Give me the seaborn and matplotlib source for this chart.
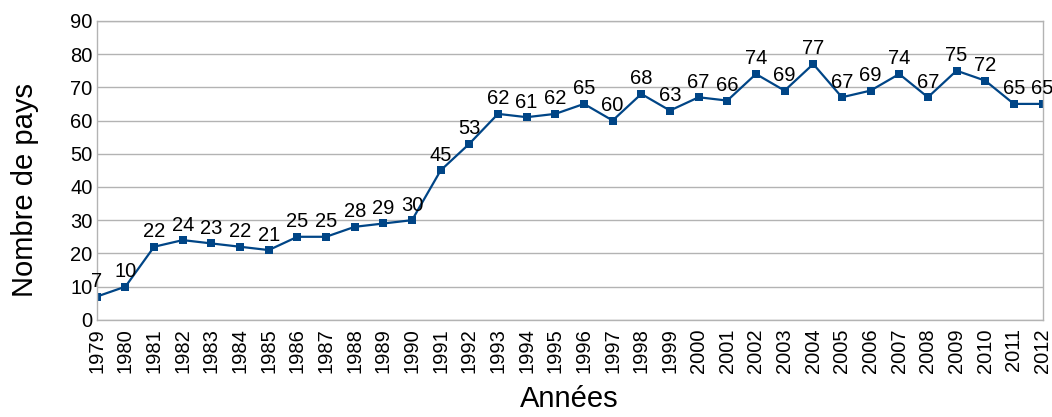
import pandas as pd
import matplotlib
matplotlib.use('Agg')
import matplotlib.pyplot as plt
import seaborn as sns

# Données
annees = list(range(1979, 2013))
nb_pays = [7, 10, 22, 24, 23, 22, 21, 25, 25, 28, 29, 30, 45, 53, 62, 61, 62,
           65, 60, 68, 63, 67, 66, 74, 69, 77, 67, 69, 74, 67, 75, 72, 65, 65]

df = pd.DataFrame({'annee': annees, 'pays': nb_pays})

sns.set_style('white')
plt.rcParams['font.family'] = ['Liberation Sans', 'DejaVu Sans']
plt.rcParams.update({'text.color': 'black', 'axes.labelcolor': 'black',
                     'xtick.color': 'black', 'ytick.color': 'black'})

fig = plt.figure(figsize=(10.52, 4.17), dpi=100)
ax = fig.add_axes([0.092, 0.233, 0.899, 0.717])

couleur = '#004586'
sns.lineplot(data=df, x='annee', y='pays', ax=ax, color=couleur,
             linewidth=1.6, marker='s', markersize=6, markeredgewidth=0)

# Étiquettes de valeurs
for x, y in zip(annees, nb_pays):
    ax.annotate(str(y), (x, y), xytext=(0, 4), textcoords='offset points',
                ha='center', va='bottom', fontsize=14.5, color='black')

ax.set_xlim(1979, 2012)
ax.set_ylim(0, 90)
ax.set_yticks(range(0, 91, 10))
ax.set_xticks(annees)
ax.set_xticklabels([str(a) for a in annees], rotation=90)
ax.tick_params(axis='x', length=5, color='#b3b3b3', labelcolor='black',
               width=1, labelsize=14.5, pad=1)
ax.tick_params(axis='y', length=0, labelcolor='black', labelsize=14.5, pad=3)
ax.yaxis.grid(True, color='#b3b3b3', linewidth=1)
ax.set_axisbelow(True)
for s in ax.spines.values():
    s.set_color('#b3b3b3')
    s.set_linewidth(1)

ax.set_xlabel('Années', fontsize=21, color='black')
ax.set_ylabel('Nombre de pays', fontsize=21, color='black')
ax.xaxis.set_label_coords(0.5, -0.265)
ax.yaxis.set_label_coords(-0.076, 0.435)
ax.yaxis.label.set_va('center')
ax.xaxis.label.set_va('center')

fig.savefig('out.png', dpi=100)
